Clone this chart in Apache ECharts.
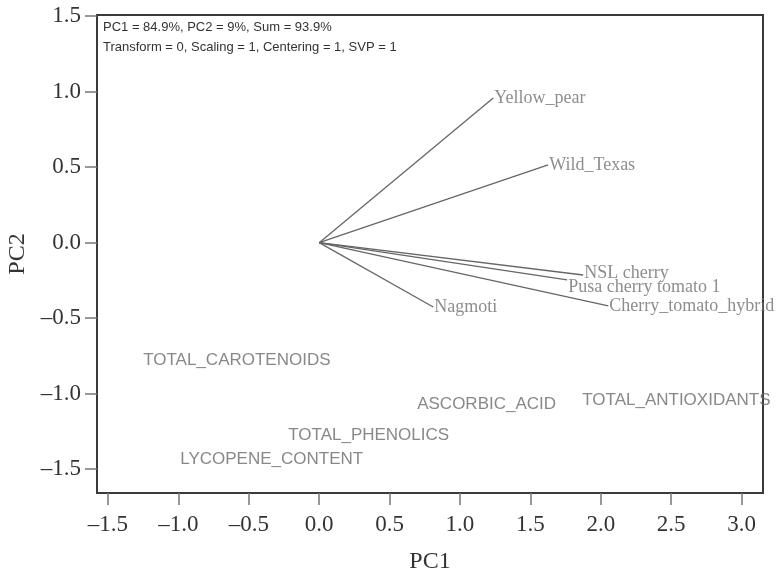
<!DOCTYPE html>
<html>
<head>
<meta charset="utf-8">
<script src="https://cdn.jsdelivr.net/npm/echarts@6/dist/echarts.min.js"></script>
<style>
  html, body { margin: 0; padding: 0; background: #fff; }
  #chart { width: 782px; height: 574px; }
</style>
</head>
<body>
<div id="chart"></div>
<script>
// Sample vectors (PC1, PC2 loadings)
const samples = ['Yellow_pear', 'Wild_Texas', 'NSL cherry', 'Pusa cherry tomato 1', 'Cherry_tomato_hybrid', 'Nagmoti'];
const samplePC1 = [1.236, 1.626, 1.875, 1.761, 2.053, 0.81];
const samplePC2 = [0.958, 0.515, -0.214, -0.247, -0.419, -0.426];

// Variable names (plotted as text only)
const variables = ['TOTAL_CAROTENOIDS', 'ASCORBIC_ACID', 'TOTAL_ANTIOXIDANTS', 'TOTAL_PHENOLICS', 'LYCOPENE_CONTENT'];
const variablePC1 = [-1.25, 0.696, 1.868, -0.22, -0.987];
const variablePC2 = [-0.777, -1.068, -1.042, -1.278, -1.432];

// Axis ticks
const xTicks = [-1.5, -1.0, -0.5, 0.0, 0.5, 1.0, 1.5, 2.0, 2.5, 3.0];
const yTicks = [-1.5, -1.0, -0.5, 0.0, 0.5, 1.0, 1.5];

const infoLines = [
  'PC1 = 84.9%, PC2 = 9%, Sum = 93.9%',
  'Transform = 0, Scaling = 1, Centering = 1, SVP = 1',
];

const serif = '"Liberation Serif", "DejaVu Serif", serif';
const tickFmt = (v) => v.toFixed(1).replace('-', '\u2013');

const chart = echarts.init(document.getElementById('chart'));

const series = samples.map((name, i) => ({
  name: name,
  type: 'line',
  data: [[0, 0], [samplePC1[i], samplePC2[i]]],
  symbol: 'none',
  silent: true,
  lineStyle: { color: '#666', width: 1.3 },
}));

// labels at vector tips
series.push({
  type: 'scatter',
  symbolSize: 0,
  silent: true,
  data: samples.map((name, i) => ({
    value: [samplePC1[i], samplePC2[i]],
    name: name,
    label: {
      offset: name === 'Pusa cherry tomato 1' ? [0, 7] : (name === 'NSL cherry' ? [0, -2] : [0, 0]),
    },
  })),
  label: {
    show: true,
    position: 'right',
    distance: 1,
    formatter: (p) => p.name,
    fontFamily: serif,
    fontSize: 18,
    color: '#707070',
  },
});

// variable names
series.push({
  type: 'scatter',
  symbolSize: 0,
  silent: true,
  data: variables.map((name, i) => ({ value: [variablePC1[i], variablePC2[i]], name: name })),
  label: {
    show: true,
    position: 'right',
    distance: 0,
    formatter: (p) => p.name,
    fontFamily: '"Liberation Sans", Arial, sans-serif',
    fontSize: 17,
    color: '#6a6a6a',
  },
});

chart.setOption({
  animation: false,
  backgroundColor: '#fff',
  grid: {
    left: 97,
    right: 19,
    top: 15,
    bottom: 81,
    outerBoundsMode: 'none',
    containLabel: false,
    show: true,
    borderColor: '#3a3a3a',
    borderWidth: 2,
    backgroundColor: 'transparent',
  },
  graphic: infoLines.map((t, i) => ({
    type: 'text',
    left: 103,
    top: 21 + i * 20,
    style: {
      text: t,
      font: '13px "Liberation Sans", Arial, sans-serif',
      fill: '#333',
    },
  })),
  xAxis: {
    type: 'value',
    min: -1.578,
    max: 3.152,
    name: 'PC1',
    nameLocation: 'middle',
    nameGap: 57,
    nameTextStyle: { fontFamily: serif, fontSize: 24, color: '#333' },
    splitLine: { show: false },
    axisLine: { show: true, onZero: false, lineStyle: { color: '#3a3a3a', width: 2 } },
    axisTick: {
      show: true,
      length: 12,
      customValues: xTicks,
      lineStyle: { color: '#777', width: 1.5 },
    },
    axisLabel: {
      customValues: xTicks,
      formatter: tickFmt,
      margin: 20,
      fontFamily: serif,
      fontSize: 23,
      color: '#333',
    },
  },
  yAxis: {
    type: 'value',
    min: -1.658,
    max: 1.508,
    name: 'PC2',
    nameLocation: 'middle',
    nameGap: 58,
    nameTextStyle: { fontFamily: serif, fontSize: 24, color: '#333' },
    splitLine: { show: false },
    axisLine: { show: true, onZero: false, lineStyle: { color: '#3a3a3a', width: 2 } },
    axisTick: {
      show: true,
      length: 12,
      customValues: yTicks,
      lineStyle: { color: '#777', width: 1.5 },
    },
    axisLabel: {
      customValues: yTicks,
      formatter: tickFmt,
      margin: 16,
      fontFamily: serif,
      fontSize: 23,
      color: '#333',
    },
  },
  series: series,
});
</script>
</body>
</html>
